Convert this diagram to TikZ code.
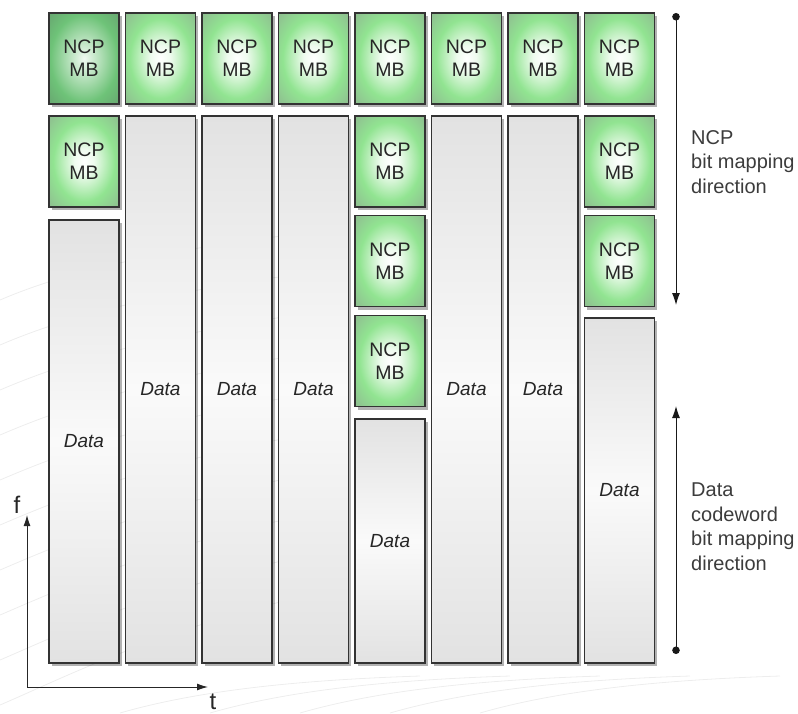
\documentclass[tikz,border=0pt]{standalone}
\usepackage{fontspec}
\setmainfont{Liberation Sans}
\usetikzlibrary{shadows,arrows.meta}
\definecolor{ncpmid}{RGB}{145,228,145}
\definecolor{ncpedge}{RGB}{142,176,144}
\definecolor{ncpdmid}{RGB}{110,195,120}
\definecolor{ncpdedge}{RGB}{100,150,108}
\definecolor{datagray}{RGB}{226,226,226}
\definecolor{datamid}{RGB}{250,250,250}
\definecolor{sidegray}{RGB}{60,60,60}
\pgfdeclareradialshading{ncpshade}{\pgfpoint{0bp}{0bp}}{%
  color(0bp)=(white); color(7bp)=(white!85!ncpmid); color(22bp)=(ncpmid);
  color(40bp)=(ncpedge); color(50bp)=(ncpedge!92!black); color(75bp)=(ncpedge!85!black)}
\pgfdeclareradialshading{ncpdarkshade}{\pgfpoint{0bp}{0bp}}{%
  color(0bp)=(white!90!ncpdmid); color(8bp)=(white!60!ncpdmid); color(24bp)=(ncpdmid);
  color(42bp)=(ncpdedge); color(50bp)=(ncpdedge!90!black); color(75bp)=(ncpdedge!80!black)}
\begin{document}
\begin{tikzpicture}[x=1pt,y=-1pt,
  boxshadow/.style={drop shadow={shadow xshift=2.5pt,shadow yshift=-3pt,opacity=0.3,fill=black}},
  ncpbox/.style={draw=black!80, line width=1.1pt, minimum width=70pt, minimum height=91pt,
    inner sep=0pt, shade, shading=ncpshade, boxshadow, align=center,
    font=\fontsize{19.5}{23}\selectfont, text=black!85},
  ncpdarkbox/.style={ncpbox, shading=ncpdarkshade},
  databox/.style={draw=black!80, line width=1.1pt, minimum width=70pt, inner sep=0pt,
    top color=datagray, bottom color=datagray, middle color=datamid, boxshadow,
    font=\fontsize{19}{23}\selectfont\itshape, text=black!85},
  sidetext/.style={align=left, inner sep=0pt, font=\fontsize{20}{24.5}\selectfont, text=sidegray},
  axislbl/.style={inner sep=0pt, font=\fontsize{24}{28}\selectfont, text=black!85},
  dirarrow/.style={line width=1pt, black!90, {Circle[length=7.5pt]}-{Latex[length=12pt,width=8pt]}},
  axisarrow/.style={line width=1pt, black!85, -{Latex[length=11pt,width=7pt]}},
  bgcurve/.style={draw=black!7, line width=0.8pt}
]
\useasboundingbox (0,0) rectangle (798,713);
% faint background curves
\foreach \i in {0,...,9}{
  \draw[bgcurve] (0,{300+45*\i}) .. controls ({70},{270+45*\i}) and ({160},{250+42*\i}) .. (330,{230+40*\i});
}
\foreach \i in {0,...,4}{
  \draw[bgcurve] ({120+90*\i},713) .. controls ({200+90*\i},690) and ({300+90*\i},680) .. ({420+90*\i},676);
}
% top row
\node[ncpdarkbox] (n1a) at (84,58.5) {NCP\\MB};
\node[ncpbox] (n2a) at (160.5,58.5) {NCP\\MB};
\node[ncpbox] (n3a) at (237,58.5) {NCP\\MB};
\node[ncpbox] (n4a) at (313.5,58.5) {NCP\\MB};
\node[ncpbox] (n5a) at (390,58.5) {NCP\\MB};
\node[ncpbox] (n6a) at (466.5,58.5) {NCP\\MB};
\node[ncpbox] (n7a) at (543,58.5) {NCP\\MB};
\node[ncpbox] (n8a) at (619.5,58.5) {NCP\\MB};
% column 1
\node[ncpbox] (n1b) at (84,161.5) {NCP\\MB};
\node[databox, minimum height=443pt] (d1) at (84,441.5) {Data};
% full data columns
\node[databox, minimum height=547pt] (d2) at (160.5,389.5) {Data};
\node[databox, minimum height=547pt] (d3) at (237,389.5) {Data};
\node[databox, minimum height=547pt] (d4) at (313.5,389.5) {Data};
\node[databox, minimum height=547pt] (d6) at (466.5,389.5) {Data};
\node[databox, minimum height=547pt] (d7) at (543,389.5) {Data};
% column 5
\node[ncpbox] (n5b) at (390,161.5) {NCP\\MB};
\node[ncpbox] (n5c) at (390,261) {NCP\\MB};
\node[ncpbox] (n5d) at (390,361) {NCP\\MB};
\node[databox, minimum height=244pt] (d5) at (390,541) {Data};
% column 8
\node[ncpbox] (n8b) at (619.5,161.5) {NCP\\MB};
\node[ncpbox] (n8c) at (619.5,261) {NCP\\MB};
\node[databox, minimum height=345pt] (d8) at (619.5,490.5) {Data};
% direction arrows
\coordinate (ncpS) at (676,13);
\coordinate (ncpE) at (676,305);
\draw[dirarrow] (ncpS) -- (ncpE);
\coordinate (datS) at (676,654);
\coordinate (datE) at (676,406);
\draw[dirarrow] (datS) -- (datE);
\node[sidetext, anchor=north west] (ncplbl) at (691,130) {NCP\\bit mapping\\direction};
\node[sidetext, anchor=north west] (datlbl) at (691,483) {Data\\codeword\\bit mapping\\direction};
% axes
\coordinate (orig) at (27,687);
\coordinate (fend) at (27,515);
\coordinate (tend) at (208,687);
\draw[axisarrow] (orig) -- (fend);
\draw[axisarrow] (orig) -- (tend);
\node[axislbl, anchor=base] (flbl) at (17,513) {f};
\node[axislbl, anchor=base] (tlbl) at (213,709) {t};
\end{tikzpicture}
\end{document}
